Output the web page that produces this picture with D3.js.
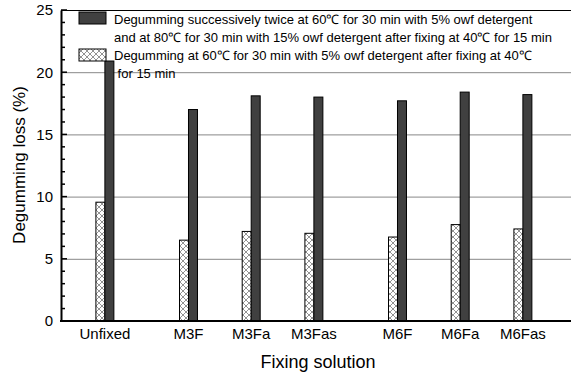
<!DOCTYPE html>
<html>
<head>
<meta charset="utf-8">
<script src="https://cdn.jsdelivr.net/npm/d3@7"></script>
<style>
  body { margin: 0; background: #fff; }
  text { font-family: "Liberation Sans", Arial, sans-serif; }
</style>
</head>
<body>
<div id="chart"></div>
<script>
// data
var categories = ["Unfixed", "M3F", "M3Fa", "M3Fas", "M6F", "M6Fa", "M6Fas"];
var xValues = [1, 5, 8, 11, 15, 18, 21];
var onceValues = [9.55, 6.5, 7.2, 7.05, 6.75, 7.75, 7.4];
var twiceValues = [20.9, 17.0, 18.1, 18.0, 17.7, 18.4, 18.2];
var yTicks = [0, 5, 10, 15, 20, 25];
var legendTwice = ["Degumming successively twice at 60\u2103 for 30 min with 5% owf detergent",
                   "and at 80\u2103 for 30 min with 15% owf detergent after fixing at 40\u2103 for 15 min"];
var legendOnce = ["Degumming at 60\u2103 for 30 min with 5% owf detergent after fixing at 40\u2103",
                  " for 15 min"];

var w = 571;
var h = 374;
var plotLeft = 61;
var plotTop = 10;
var plotBottom = 321;
var unit = 20.9;

var svg = d3.select("#chart")
            .append("svg")
            .attr("width", w)
            .attr("height", h);

var defs = svg.append("defs");
var pat = defs.append("pattern")
              .attr("id", "hatch")
              .attr("patternUnits", "userSpaceOnUse")
              .attr("width", 6)
              .attr("height", 6);
pat.append("rect").attr("width", 6).attr("height", 6).attr("fill", "#fff");
pat.append("path")
   .attr("d", "M0,0L6,6M6,0L0,6M-1,5L1,7M5,-1L7,1M-1,1L1,-1M5,7L7,5")
   .attr("stroke", "#777")
   .attr("stroke-width", 0.8);

var x = d3.scaleLinear()
          .domain([-1.1, 24])
          .range([plotLeft, plotLeft + 25.1 * unit]);

var y = d3.scaleLinear()
          .domain([0, 25])
          .range([plotBottom, plotTop]);

var barW = x(0.43) - x(0);

// grid
svg.append("g")
   .selectAll("line")
   .data(yTicks.filter(function(d) { return d > 0 && d < 25; }))
   .join("line")
   .attr("x1", plotLeft)
   .attr("x2", w)
   .attr("y1", function(d) { return y(d) + 0.5; })
   .attr("y2", function(d) { return y(d) + 0.5; })
   .attr("stroke", "#888")
   .attr("stroke-width", 1);

// top border
svg.append("line")
   .attr("x1", plotLeft).attr("x2", w)
   .attr("y1", plotTop + 0.5).attr("y2", plotTop + 0.5)
   .attr("stroke", "#000");

// hatched bars
svg.append("g")
   .selectAll("rect")
   .data(onceValues)
   .join("rect")
   .attr("x", function(d, i) { return x(xValues[i]) - barW; })
   .attr("y", function(d) { return y(d); })
   .attr("width", barW)
   .attr("height", function(d) { return plotBottom - y(d); })
   .attr("fill", "url(#hatch)")
   .attr("stroke", "#000")
   .attr("stroke-width", 1);

// dark bars
svg.append("g")
   .selectAll("rect")
   .data(twiceValues)
   .join("rect")
   .attr("x", function(d, i) { return x(xValues[i]); })
   .attr("y", function(d) { return y(d); })
   .attr("width", barW)
   .attr("height", function(d) { return plotBottom - y(d); })
   .attr("fill", "#404040")
   .attr("stroke", "#000")
   .attr("stroke-width", 1);

// y axis
var yAxis = d3.axisLeft(y)
              .tickValues(yTicks)
              .tickSize(0)
              .tickPadding(8);
var ya = svg.append("g")
            .attr("transform", "translate(" + plotLeft + ",0)")
            .call(yAxis);
ya.select(".domain").attr("stroke-width", 2);
ya.selectAll("text")
  .attr("font-size", 15)
  .attr("font-family", "Liberation Sans, Arial, sans-serif")
  .attr("fill", "#000");

// inward ticks
var minor = d3.range(0, 26);
svg.append("g")
   .selectAll("line")
   .data(minor)
   .join("line")
   .attr("x1", plotLeft)
   .attr("x2", function(d) { return d % 5 === 0 ? plotLeft + 6 : plotLeft + 4; })
   .attr("y1", function(d) { return y(d); })
   .attr("y2", function(d) { return y(d); })
   .attr("stroke", "#000")
   .attr("stroke-width", 1.5);

// x axis line
svg.append("line")
   .attr("x1", plotLeft - 1).attr("x2", w)
   .attr("y1", plotBottom).attr("y2", plotBottom)
   .attr("stroke", "#000")
   .attr("stroke-width", 2);

// x labels
svg.append("g")
   .selectAll("text")
   .data(categories)
   .join("text")
   .attr("x", function(d, i) { return x(xValues[i]); })
   .attr("y", 339)
   .attr("text-anchor", "middle")
   .attr("font-size", 15)
   .text(function(d) { return d; });

svg.append("text")
   .attr("x", 318)
   .attr("y", 368)
   .attr("text-anchor", "middle")
   .attr("font-size", 18)
   .text("Fixing solution");

svg.append("text")
   .attr("transform", "translate(25,165) rotate(-90)")
   .attr("text-anchor", "middle")
   .attr("font-size", 17)
   .text("Degumming loss (%)");

// legend
var lg = svg.append("g");
lg.append("rect")
  .attr("x", 79).attr("y", 12).attr("width", 27).attr("height", 12)
  .attr("fill", "#404040").attr("stroke", "#000");
lg.append("rect")
  .attr("x", 79).attr("y", 49).attr("width", 27).attr("height", 12)
  .attr("fill", "url(#hatch)").attr("stroke", "#000");
lg.selectAll("text.l")
  .data(legendTwice.concat(legendOnce))
  .join("text")
  .attr("class", "l")
  .attr("x", 114)
  .attr("y", function(d, i) { return 24 + i * 18; })
  .attr("font-size", 13)
  .style("white-space", "pre")
  .text(function(d) { return d; });
</script>
</body>
</html>
